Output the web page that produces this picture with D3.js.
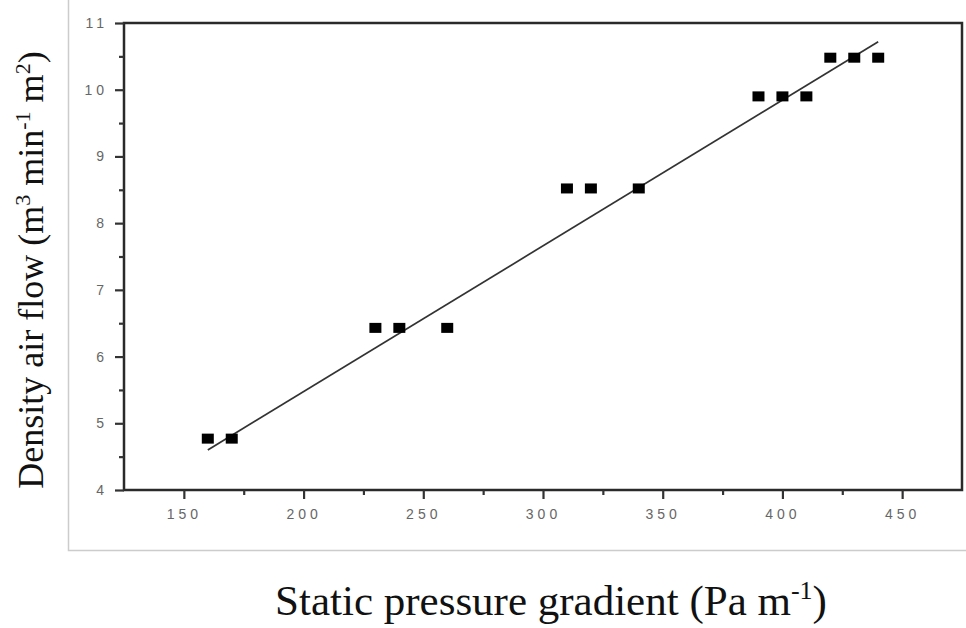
<!DOCTYPE html>
<html>
<head>
<meta charset="utf-8">
<script src="https://cdn.jsdelivr.net/npm/d3@7"></script>
<style>
  body { margin: 0; background: #fff; }
  .tick text { font-family: "Liberation Sans", Arial, sans-serif; font-size: 14px; fill: #666; letter-spacing: 4px; }
  .axis path, .axis line { stroke: #333; }
  .title { font-family: "Liberation Serif", "Times New Roman", serif; fill: #111; }
</style>
</head>
<body>
<div id="chart"></div>
<script>
// measured points
const pressure = [160, 170, 230, 240, 260, 310, 320, 340, 390, 400, 410, 420, 430, 440];
const airflow = [4.77, 4.77, 6.43, 6.43, 6.43, 8.52, 8.52, 8.52, 9.9, 9.9, 9.9, 10.48, 10.48, 10.48];
// fitted line endpoints
const fitX = [160, 440];
const fitY = [4.6, 10.72];
const xTicks = [150, 200, 250, 300, 350, 400, 450];
const xMinor = [175, 225, 275, 325, 375, 425];
const yTicks = [4, 5, 6, 7, 8, 9, 10, 11];
const yMinor = [4.5, 5.5, 6.5, 7.5, 8.5, 9.5, 10.5];

const W = 966, H = 628;
const box = {left: 124, right: 962, top: 23, bottom: 490};

const svg = d3.select("#chart").append("svg")
    .attr("width", W)
    .attr("height", H);

// light outer frame
svg.append("path")
    .attr("d", `M68.5,0 V550.5 H${W}`)
    .attr("fill", "none")
    .attr("stroke", "#ccc")
    .attr("stroke-width", 1.5);

const x = d3.scaleLinear().domain([125, 475]).range([box.left, box.right]);
const y = d3.scaleLinear().domain([4, 11]).range([box.bottom, box.top]);

// box
svg.append("rect")
    .attr("x", box.left).attr("y", box.top)
    .attr("width", box.right - box.left).attr("height", box.bottom - box.top)
    .attr("fill", "none")
    .attr("stroke", "#2a2a2a")
    .attr("stroke-width", 2.5);

svg.append("g").attr("class", "axis")
    .attr("transform", `translate(0,${box.bottom})`)
    .call(d3.axisBottom(x).tickValues(xTicks).tickSize(9).tickPadding(10).tickFormat(d3.format("d")));
svg.append("g").attr("class", "axis")
    .attr("transform", `translate(0,${box.bottom})`)
    .call(d3.axisBottom(x).tickValues(xMinor).tickSize(5).tickFormat(""));

svg.append("g").attr("class", "axis")
    .attr("transform", `translate(${box.left},0)`)
    .call(d3.axisLeft(y).tickValues(yTicks).tickSize(9).tickPadding(7).tickFormat(d3.format("d")));
svg.append("g").attr("class", "axis")
    .attr("transform", `translate(${box.left},0)`)
    .call(d3.axisLeft(y).tickValues(yMinor).tickSize(5).tickFormat(""));

svg.selectAll(".axis path").remove();
svg.selectAll(".axis line").attr("stroke-width", 2.2);

// fit line
svg.append("line")
    .attr("x1", x(fitX[0])).attr("y1", y(fitY[0]))
    .attr("x2", x(fitX[1])).attr("y2", y(fitY[1]))
    .attr("stroke", "#333")
    .attr("stroke-width", 1.7);

// markers
svg.selectAll("rect.pt")
    .data(pressure)
    .enter().append("rect")
    .attr("class", "pt")
    .attr("x", d => x(d) - 6)
    .attr("y", (d, i) => y(airflow[i]) - 5)
    .attr("width", 12)
    .attr("height", 10)
    .attr("fill", "#000");

// axis titles
const xt = svg.append("text").attr("class", "title")
    .attr("x", 551).attr("y", 615)
    .attr("text-anchor", "middle")
    .attr("font-size", 43);
xt.append("tspan").text("Static pressure gradient (Pa m");
xt.append("tspan").attr("dy", -16).attr("font-size", 26).text("-1");
xt.append("tspan").attr("dy", 16).text(")");

const yt = svg.append("text").attr("class", "title")
    .attr("transform", "translate(43,270) rotate(-90)")
    .attr("text-anchor", "middle")
    .attr("font-size", 36);
yt.append("tspan").text("Density air flow (m");
yt.append("tspan").attr("dy", -13).attr("font-size", 22).text("3");
yt.append("tspan").attr("dy", 13).text(" min");
yt.append("tspan").attr("dy", -13).attr("font-size", 22).text("-1");
yt.append("tspan").attr("dy", 13).text(" m");
yt.append("tspan").attr("dy", -13).attr("font-size", 22).text("2");
yt.append("tspan").attr("dy", 13).text(")");
</script>
</body>
</html>
